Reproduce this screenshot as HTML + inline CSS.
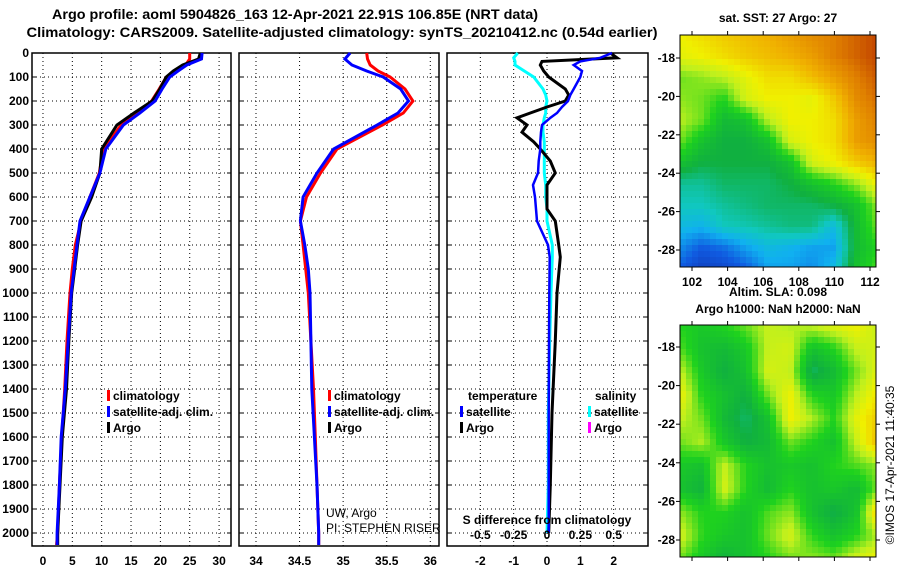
<!DOCTYPE html>
<html><head><meta charset="utf-8">
<style>
body{margin:0;background:#fff;}
svg{display:block;font-family:"Liberation Sans",sans-serif;}
.b{font-weight:bold;font-size:12px;}
</style></head>
<body>
<svg id="fig" width="900" height="580" viewBox="0 0 900 580">
<text x="295" y="19" text-anchor="middle" font-weight="bold" font-size="14" textLength="486" lengthAdjust="spacingAndGlyphs">Argo profile: aoml 5904826_163 12-Apr-2021 22.91S 106.85E (NRT data)</text>
<text x="342" y="37" text-anchor="middle" font-weight="bold" font-size="14" textLength="631" lengthAdjust="spacingAndGlyphs">Climatology: CARS2009. Satellite-adjusted climatology: synTS_20210412.nc (0.54d earlier)</text>
<g id="plots"></g>
<text x="778" y="22" text-anchor="middle" class="b">sat. SST: 27 Argo: 27</text>
<text x="778" y="296" text-anchor="middle" class="b">Altim. SLA: 0.098</text>
<text x="778" y="313" text-anchor="middle" class="b">Argo h1000: NaN h2000: NaN</text>
<text transform="translate(894,465) rotate(-90)" text-anchor="middle" font-size="12">©IMOS 17-Apr-2021 11:40:35</text>
</svg>
<script>
// ---- profile data ----
const depthTicks=[0,100,200,300,400,500,600,700,800,900,1000,1100,1200,1300,1400,1500,1600,1700,1800,1900,2000];
const tDepth=[0,25,50,75,100,150,200,250,300,400,500,600,700,800,900,1000,1200,1400,1600,1800,2000,2050];
const tClim=[25,25,24.3,22.5,21,19.8,18.5,16,13.3,10.3,9.6,8,6.5,5.5,5.0,4.6,4.1,3.7,3.2,2.8,2.5,2.3];
const tSat=[27.1,27,24.5,23,21.6,20.3,19.1,16.5,13.7,10.7,9.7,8,6.3,5.8,5.3,4.8,4.3,3.8,3.1,2.8,2.4,2.4];
const tArgo=[26.8,26.5,23.8,22.2,21,19.9,18.6,15.5,12.6,10,9.7,8.3,6.5,5.9,5.4,4.9,4.4,4.0,3.3,2.9,2.5,2.5];
const sClim=[35.27,35.28,35.31,35.4,35.54,35.71,35.8,35.69,35.45,34.93,34.74,34.58,34.51,34.54,34.57,34.6,34.63,34.66,34.68,34.7,34.72,34.72];
const sSat=[35.08,35.02,35.1,35.27,35.46,35.66,35.75,35.63,35.39,34.89,34.7,34.54,34.51,34.56,34.6,34.62,34.63,34.64,34.67,34.7,34.72,34.72];
const dDepth=[0,20,35,50,75,100,150,175,200,225,250,270,300,330,370,400,450,500,550,600,650,700,800,850,1000,1200,1500,1800,2000];
const dTSat=[1.95,1.6,1.0,0.8,1.05,1.0,0.8,0.7,0.63,0.45,0.3,0.1,-0.15,-0.18,-0.2,-0.2,-0.25,-0.27,-0.42,-0.36,-0.33,-0.3,0.03,0.08,0.07,0.06,0.05,0.05,0.05];
const dTArgo=[1.9,2.1,-0.15,-0.2,-0.1,0.05,0.55,0.65,0.55,0.0,-0.5,-0.9,-0.6,-0.75,-0.4,-0.2,0.1,0.25,0.0,0.0,0.0,0.25,0.35,0.4,0.3,0.25,0.15,0.1,0.05];
const dSSat=[-0.22,-0.25,-0.24,-0.24,-0.17,-0.1,-0.03,-0.01,0,-0.01,-0.01,-0.02,-0.03,-0.03,-0.02,-0.02,-0.02,-0.02,-0.01,-0.01,0,0,0.04,0.04,0.03,0.02,0.01,0.01,0];
const tXTicks=[0,5,10,15,20,25,30];
const sXTicks=[34,34.5,35,35.5,36];
const dXTicks=[-2,-1,0,1,2];
const dSTickLabels=["-0.5","-0.25","0","0.25","0.5"];
const dSTicks=[-0.5,-0.25,0,0.25,0.5];

const NS="http://www.w3.org/2000/svg";
const root=document.getElementById('plots');
function mk(tag,attrs,parent){const e=document.createElementNS(NS,tag);for(const k in attrs)e.setAttribute(k,attrs[k]);(parent||root).appendChild(e);return e;}
const yTop=53,yScale=0.24,yBot=546;
const yOf=d=>yTop+d*yScale;

function panel(name,x0,x1,vmin,vmax,ticks,labels){
  const g=mk('g',{});
  
  
  const xOf=v=>x0+(v-vmin)/(vmax-vmin)*(x1-x0);
  depthTicks.forEach(d=>{if(d>0){const l=mk('line',{x1:x0,x2:x1,y1:yOf(d),y2:yOf(d),stroke:'#000','stroke-dasharray':'1,3'},g);
    }
    mk('line',{x1:x0,x2:x0+4,y1:yOf(d),y2:yOf(d),stroke:'#000'},g);mk('line',{x1:x1-4,x2:x1,y1:yOf(d),y2:yOf(d),stroke:'#000'},g);});
  ticks.forEach((v,i)=>{const x=xOf(v);
    const l=mk('line',{x1:x,x2:x,y1:yTop,y2:yBot,stroke:'#000','stroke-dasharray':'1,3'},g);
    
    const t=mk('text',{x:x,y:565,'text-anchor':'middle',class:'b'},g);t.textContent=labels?labels[i]:String(v);
    });
  const r=mk('rect',{x:x0,y:yTop,width:x1-x0,height:yBot-yTop,fill:'none',stroke:'#000','stroke-width':1.5},g);
  
  return {g,xOf};
}
function line(p,ds,vs,color,name,w,scale){
  const pts=ds.map((d,i)=>p.xOf(vs[i]*(scale||1)).toFixed(1)+','+yOf(d).toFixed(1)).join(' ');
  const e=mk('polyline',{points:pts,fill:'none',stroke:color,'stroke-width':w||3},p.g);
  
}
depthTicks.forEach(d=>{const t=mk('text',{x:29,y:yOf(d)+4,'text-anchor':'end',class:'b'});t.textContent=d;
  });

const p1=panel('temperature-panel',32,231,-1.87,32.03,tXTicks);
line(p1,tDepth,tClim,'#f00','temp-climatology-line');
line(p1,tDepth,tArgo,'#000','temp-argo-line');
line(p1,tDepth,tSat,'#00f','temp-satellite-line');
const p2=panel('salinity-panel',239,439,33.805,36.1,sXTicks);
line(p2,tDepth,sClim,'#f00','sal-climatology-line');
line(p2,tDepth,sSat,'#00f','sal-satellite-line');
const p3=panel('difference-panel',447,648,-3,3.03,dXTicks);
line(p3,dDepth,dSSat,'#0ff','sal-diff-satellite-line',3,4);
line(p3,dDepth,dTArgo,'#000','temp-diff-argo-line');
line(p3,dDepth,dTSat,'#00f','temp-diff-satellite-line',2.5);
dSTicks.forEach((v,i)=>{const t=mk('text',{x:p3.xOf(v*4),y:539,'text-anchor':'middle',class:'b'},p3.g);t.textContent=dSTickLabels[i];
  });
{const t=mk('text',{x:547,y:524,'text-anchor':'middle',class:'b'},p3.g);t.textContent='S difference from climatology';
 }

function legend(x,y,color,label,parent){
  const m=mk('rect',{x:x,y:y-10,width:3,height:11,fill:color},parent);
  
  const t=mk('text',{x:x+6,y:y,class:'b'},parent);t.textContent=label;
  
}
[[p1.g,107],[p2.g,328]].forEach(([g,x])=>{legend(x,400,'#f00','climatology',g);legend(x,416,'#00f','satellite-adj. clim.',g);legend(x,432,'#000','Argo',g);});
{const t=mk('text',{x:468,y:400,class:'b'},p3.g);t.textContent='temperature';
 const s=mk('text',{x:595,y:400,class:'b'},p3.g);s.textContent='salinity';}
legend(460,416,'#00f','satellite',p3.g);legend(460,432,'#000','Argo',p3.g);
legend(588,416,'#0ff','satellite',p3.g);legend(588,432,'#f0f','Argo',p3.g);
{const a=mk('text',{x:326,y:517,'font-size':'12'},p2.g);a.textContent='UW, Argo';
 const b=mk('text',{x:326,y:532,'font-size':'12'},p2.g);b.textContent='PI: STEPHEN RISER';}

// ---- maps ----
const sstGrid=[
[.72,.75,.78,.8,.82,.85,.88,.9,.93,.96],
[.7,.72,.75,.78,.8,.82,.85,.9,.93,.96],
[.6,.62,.65,.7,.75,.75,.8,.85,.9,.94],
[.62,.6,.55,.68,.72,.72,.7,.78,.88,.92],
[.65,.6,.48,.5,.65,.72,.72,.75,.85,.9],
[.6,.5,.45,.45,.5,.68,.72,.75,.85,.88],
[.5,.45,.45,.45,.45,.5,.68,.72,.78,.82],
[.38,.38,.42,.42,.42,.45,.5,.55,.62,.72],
[.35,.35,.38,.4,.42,.42,.42,.45,.5,.62],
[.3,.28,.35,.36,.38,.4,.4,.3,.48,.6],
[.22,.15,.18,.25,.3,.28,.25,.25,.48,.55],
[.15,.08,.1,.15,.25,.25,.22,.3,.5,.58]];
const slaGrid=[
[.55,.52,.55,.6,.66,.64,.66,.7,.72,.66],
[.58,.5,.48,.52,.66,.68,.5,.55,.66,.68],
[.66,.52,.45,.5,.68,.66,.42,.48,.6,.7],
[.72,.55,.5,.45,.6,.72,.55,.52,.65,.74],
[.66,.6,.48,.42,.5,.72,.64,.55,.7,.78],
[.6,.64,.52,.45,.48,.6,.55,.5,.66,.8],
[.52,.5,.66,.55,.5,.52,.5,.55,.58,.62],
[.5,.46,.68,.55,.48,.55,.5,.52,.48,.6],
[.62,.55,.55,.5,.58,.62,.5,.44,.5,.78],
[.68,.56,.52,.5,.6,.68,.56,.5,.55,.64],
[.6,.52,.46,.5,.55,.6,.62,.6,.68,.72]];
const lonTicks=[102,104,106,108,110,112];
const latTicks=[-18,-20,-22,-24,-26,-28];
const stops=[[0,[16,40,160]],[.15,[16,90,224]],[.27,[16,176,240]],[.35,[16,200,190]],[.45,[16,176,64]],[.55,[30,210,30]],[.65,[190,240,30]],[.72,[240,240,0]],[.82,[240,176,0]],[.9,[224,128,0]],[1,[176,32,0]]];
function cmap(v){for(let i=1;i<stops.length;i++){if(v<=stops[i][0]){const a=stops[i-1],b=stops[i],t=(v-a[0])/(b[0]-a[0]);
  return 'rgb('+a[1].map((c,k)=>Math.round(c+(b[1][k]-c)*t)).join(',')+')';}}return 'rgb(176,32,0)';}
function map(name,grid,x0,y0,w,h,lat18,lat28,showLon){
  const g=mk('g',{});
  const cs=6,nx=Math.ceil(w/cs),ny=Math.ceil(h/cs),R=grid.length,C=grid[0].length;
  for(let j=0;j<ny;j++)for(let i=0;i<nx;i++){
    const gx=(i+.5)/nx*(C-1),gy=(j+.5)/ny*(R-1),ix=Math.min(Math.floor(gx),C-2),iy=Math.min(Math.floor(gy),R-2),fx=gx-ix,fy=gy-iy;
    const v=grid[iy][ix]*(1-fx)*(1-fy)+grid[iy][ix+1]*fx*(1-fy)+grid[iy+1][ix]*(1-fx)*fy+grid[iy+1][ix+1]*fx*fy;
    mk('rect',{x:x0+i*cs,y:y0+j*cs,width:Math.min(cs,w-i*cs),height:Math.min(cs,h-j*cs),fill:cmap(v)},g);}
  const fr=mk('rect',{x:x0,y:y0,width:w,height:h,fill:'none',stroke:'#000'},g);
  
  const lx=v=>692+(v-102)*(870-692)/10;
  const ly=v=>lat18+(v+18)/(-10)*(lat28-lat18);
  lonTicks.forEach(v=>{mk('line',{x1:lx(v),x2:lx(v),y1:y0+h,y2:y0+h+4,stroke:'#000'},g);mk('line',{x1:lx(v),x2:lx(v),y1:y0,y2:y0-4,stroke:'#000'},g);
    if(showLon){const t=mk('text',{x:lx(v),y:y0+h+19,'text-anchor':'middle',class:'b'},g);t.textContent=v;
    }});
  latTicks.forEach(v=>{mk('line',{x1:x0-4,x2:x0,y1:ly(v),y2:ly(v),stroke:'#000'},g);mk('line',{x1:x0+w,x2:x0+w+4,y1:ly(v),y2:ly(v),stroke:'#000'},g);
    const t=mk('text',{x:x0-5,y:ly(v)+4,'text-anchor':'end',class:'b'},g);t.textContent=v;
    });
}
map('sst-map',sstGrid,680,35,196,232,58,250,true);
map('sla-map',slaGrid,680,325,196,232,347,540,false);
</script>
</body></html>
